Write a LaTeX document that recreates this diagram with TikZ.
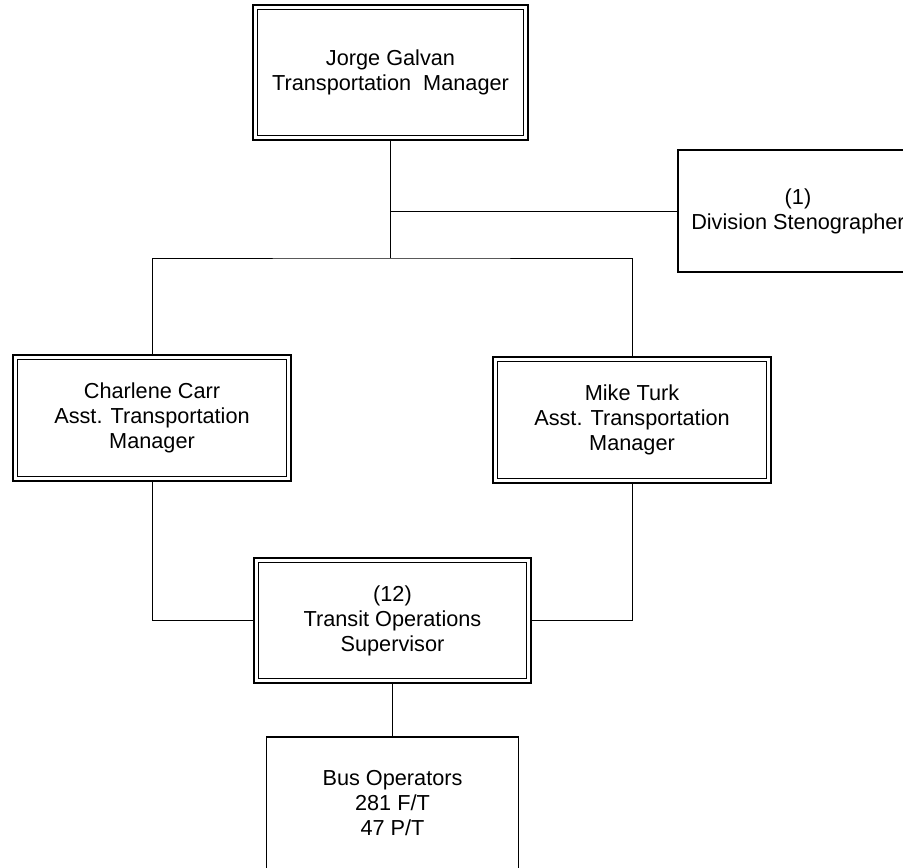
\documentclass[tikz,border=0pt]{standalone}
\usepackage{fontspec}
\setmainfont{Liberation Sans}
\usetikzlibrary{positioning,backgrounds}

\begin{document}
\begin{tikzpicture}[
  x=1pt,y=-1pt,
  font=\fontsize{21.7}{25}\selectfont,
  line width=1.5pt,
  box/.style={draw,align=center,outer sep=0pt,inner sep=0pt},
  sbox/.style={box},
  dbox/.style={box,double,double distance=3pt}
]
\useasboundingbox (0,0) rectangle (903,868);
\clip (0,0) rectangle (903,868);
% manager on top, stenographer off to the side
\node[dbox,minimum width=270.5pt,minimum height=130.5pt] (tm) at (390.5,72.5)
  {Jorge Galvan\\Transportation\ \ Manager};
\node[sbox,minimum width=240pt,minimum height=122pt] (steno) at (798,211)
  {(1)\\Division Stenographer};
% two assistants
\node[dbox,minimum width=273.5pt,minimum height=121.5pt] (acarr) at (152,418)
  {Charlene Carr\\Asst. Transportation\\Manager};
\node[dbox,minimum width=273.5pt,minimum height=121.5pt] (aturk) at (632,420)
  {Mike Turk\\Asst. Transportation\\Manager};
% supervisors and operators
\node[dbox,minimum width=272.5pt,minimum height=120.5pt] (tos) at (392.5,620.5)
  {(12)\\Transit Operations\\Supervisor};
\node[sbox,below=56pt of tos,minimum width=252pt,minimum height=133pt] (bus)
  {Bus Operators\\281 F/T\\47 P/T};
\path (tm.south) ++(0,120.25) coordinate (split);
\begin{scope}[on background layer]
\draw (tm.south) -- (split);
\draw (tm.south |- steno.west) -- (steno.west);
\draw (acarr.north) |- (split) -| (aturk.north);
\draw (acarr.south) |- (tos.west);
\draw (aturk.south) |- (tos.east);
\draw (tos.south) -- (bus.north);
\end{scope}
\end{tikzpicture}
\end{document}
